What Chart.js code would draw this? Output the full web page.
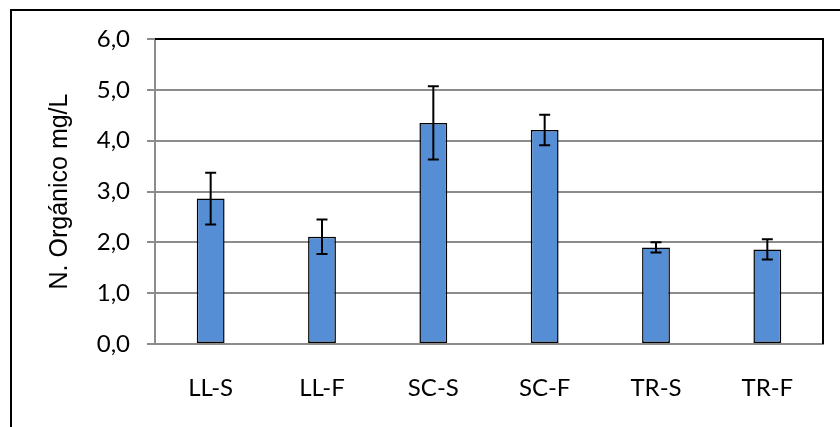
<!DOCTYPE html>
<html>
<head>
<meta charset="utf-8">
<script src="https://cdn.jsdelivr.net/npm/chart.js@4.4.0/dist/chart.umd.min.js"></script>
<style>
  html, body { margin: 0; padding: 0; background: #fff; }
  #wrap { width: 840px; height: 427px; position: relative; }
</style>
</head>
<body>
<div id="wrap"><canvas id="chart" width="840" height="427"></canvas></div>
<script>
// values
var categories = ['LL-S', 'LL-F', 'SC-S', 'SC-F', 'TR-S', 'TR-F'];
var means = [2.86, 2.11, 4.35, 4.21, 1.90, 1.86];
var errors = [0.51, 0.34, 0.72, 0.30, 0.10, 0.20];
var yTicks = [0, 1, 2, 3, 4, 5, 6];

var ctx = document.getElementById('chart');

// excel style error bars, drawn through the y scale
var errorBars = {
    id: 'errorBars',
    afterDatasetsDraw: function(chart) {
        var c = chart.ctx;
        var y = chart.scales.y;
        var meta = chart.getDatasetMeta(0);
        c.save();
        c.strokeStyle = '#000';
        c.lineWidth = 2;
        for (var i = 0; i < means.length; i++) {
            var x = meta.data[i].x;
            var top = y.getPixelForValue(means[i] + errors[i]);
            var bot = y.getPixelForValue(means[i] - errors[i]);
            c.beginPath();
            c.moveTo(x, top); c.lineTo(x, bot);
            c.moveTo(x - 5.5, top); c.lineTo(x + 5.5, top);
            c.moveTo(x - 5.5, bot); c.lineTo(x + 5.5, bot);
            c.stroke();
        }
        c.restore();
    }
};

// black frame round the plot (top and right) and the outer box
var frames = {
    id: 'frames',
    beforeDraw: function(chart) {
        var c = chart.ctx;
        c.save();
        c.fillStyle = '#fff';
        c.fillRect(0, 0, chart.width, chart.height);
        c.restore();
    },
    afterDraw: function(chart) {
        var c = chart.ctx, a = chart.chartArea;
        c.save();
        c.strokeStyle = '#000';
        c.lineWidth = 2;
        c.beginPath();
        c.moveTo(a.left, a.top);
        c.lineTo(a.right, a.top);
        c.lineTo(a.right, a.bottom);
        c.stroke();
        c.fillStyle = '#000';
        c.fillRect(10, 9, 830, 2);
        c.fillRect(10, 9, 2, 418);
        c.restore();
    }
};

var chart = new Chart(ctx, {
    type: 'bar',
    data: {
        labels: categories,
        datasets: [{
            data: means,
            backgroundColor: '#558ed5',
            borderColor: '#000',
            borderWidth: 1.5,
            borderSkipped: false,
            barPercentage: 0.25,
            categoryPercentage: 1
        }]
    },
    options: {
        responsive: false,
        animation: false,
        events: [],
        layout: { padding: { top: 39, right: 17, left: 0, bottom: 0 } },
        plugins: { legend: { display: false }, tooltip: { enabled: false } },
        scales: {
            x: {
                afterFit: function(s) { s.height = 83; },
                grid: { display: false, drawTicks: false },
                border: { display: true, color: '#8c8c8c', width: 2 },
                ticks: { color: '#000', padding: 30, font: { family: 'Lato', size: 24 } }
            },
            y: {
                min: 0,
                max: 6,
                afterFit: function(s) { s.width = 155; },
                afterBuildTicks: function(s) {
                    s.ticks = yTicks.map(function(v) { return { value: v }; });
                },
                grid: { color: '#8c8c8c', lineWidth: 2, tickLength: 8 },
                border: { display: true, color: '#8c8c8c', width: 2 },
                ticks: {
                    color: '#000',
                    padding: 17,
                    font: { family: 'Lato', size: 24 },
                    callback: function(v) { return v.toFixed(1).replace('.', ','); }
                },
                title: {
                    display: true,
                    text: 'N. Orgánico mg/L',
                    color: '#000',
                    font: { family: 'Liberation Sans', size: 25 },
                    padding: { top: 45, bottom: 0 }
                }
            }
        }
    },
    plugins: [errorBars, frames]
});
</script>
</body>
</html>
